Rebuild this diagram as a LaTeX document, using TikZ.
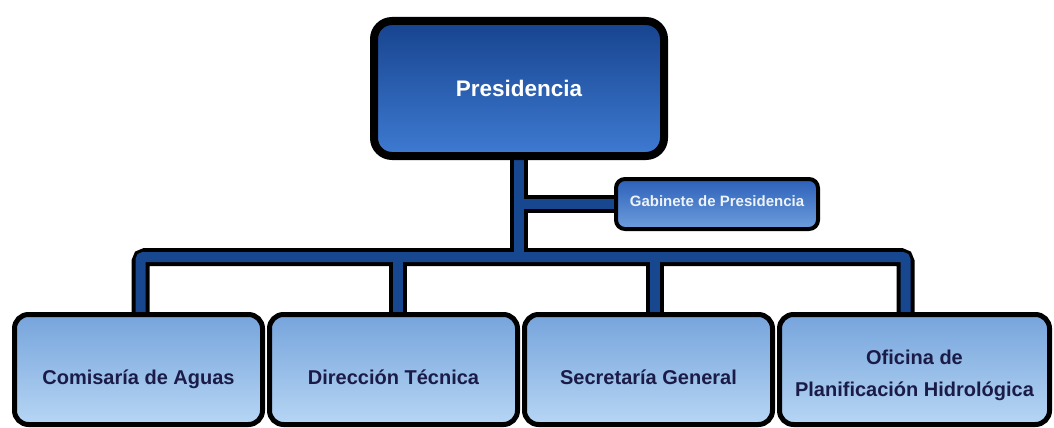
\documentclass[tikz,border=0pt]{standalone}
\usepackage{fontspec}
\setmainfont{Liberation Sans}
\usetikzlibrary{positioning,backgrounds}

\definecolor{presTop}{HTML}{17438E}
\definecolor{presBot}{HTML}{3E7BD2}
\definecolor{gabTop}{HTML}{2C60B8}
\definecolor{gabBot}{HTML}{6E9EDE}
\definecolor{unitTop}{HTML}{76A4DC}
\definecolor{unitBot}{HTML}{B6D6F4}
\definecolor{linkBlue}{HTML}{17488F}
\definecolor{unitText}{HTML}{1B1B48}

\tikzset{
  presbox/.style={rounded corners=18pt, draw=black, line width=8pt,
    top color=presTop, bottom color=presBot, text=white,
    minimum width=290pt, minimum height=135pt,
    font=\bfseries\fontsize{22.5}{27}\selectfont},
  gabbox/.style={rounded corners=9pt, draw=black, line width=4pt,
    top color=gabTop, bottom color=gabBot, text=white!92!gabTop,
    minimum width=202pt, minimum height=50pt, text height=11pt, text depth=6pt,
    font=\bfseries\fontsize{15}{18}\selectfont},
  unitbox/.style={rounded corners=14pt, draw=black, line width=5pt,
    top color=unitTop, bottom color=unitBot, text=unitText, align=center,
    minimum width=248pt, minimum height=110pt, text height=29pt, text depth=0pt,
    font=\bfseries\fontsize{20}{32}\selectfont},
  linkback/.style={draw=black, line width=18pt, line cap=round, rounded corners=5pt},
  linkfront/.style={draw=linkBlue, line width=10pt, line cap=round, rounded corners=3pt}
}

% one pass of the org chart lines, drawn twice (outline, then fill)
\newcommand{\orglinks}[1]{%
  \draw[#1] (pres.south) -- (hub);
  \draw[#1] (branch) -- (gab.west);
  \draw[#1] ([xshift=2pt]comisaria.north) |- (hub) -| ([xshift=-9pt]oficina.north);
  \draw[#1] ([xshift=4pt]direccion.north) -- ([xshift=4pt]direccion.north |- hub);
  \draw[#1] ([xshift=6pt]secretaria.north) -- ([xshift=6pt]secretaria.north |- hub);
}

\begin{document}
\begin{tikzpicture}[x=1pt,y=-1pt,node distance=2pt]
  \useasboundingbox (0,0) rectangle (1054,428);

  \node [presbox] (pres) at (519,88.5) {Presidencia};
  \node [gabbox] (gab) at (717,204) {Gabinete de Presidencia};

  \node [unitbox] (comisaria) at (138.5,369.5) {Comisaría de Aguas};
  \node [unitbox, right=of comisaria] (direccion) {Dirección Técnica};
  \node [unitbox, right=of direccion] (secretaria) {Secretaría General};
  \node [unitbox, right=of secretaria, minimum width=270pt,
    text height=53pt] (oficina) {Oficina de\\Planificación Hidrológica};

  \coordinate (hub) at (pres.south |- 0,257);
  \coordinate (branch) at (pres.south |- gab.west);

  \begin{pgfonlayer}{background}
    \orglinks{linkback}
    \orglinks{linkfront}
  \end{pgfonlayer}
\end{tikzpicture}
\end{document}
